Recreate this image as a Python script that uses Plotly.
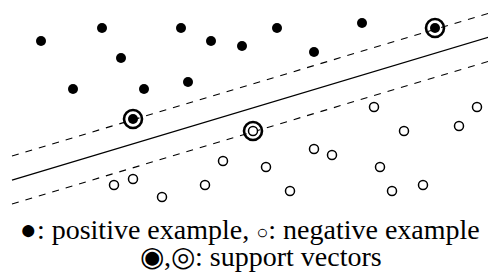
import plotly.graph_objects as go
import numpy as np

# positive examples (x, y) in a y-up coordinate frame
pos_x = [41, 102, 181, 211, 242, 121, 73, 144, 188, 277, 362, 314]
pos_y = [236, 249, 249, 236, 231, 219, 188, 188, 195, 249, 254, 225]
# negative examples
neg_x = [374, 477, 459, 404, 314, 332, 266, 380, 290, 392, 423, 223, 114, 133, 205, 162]
neg_y = [170, 170, 151, 146, 128, 122, 110, 110, 86, 86, 92, 116, 92, 98, 92, 80]
# support vectors
sv_pos_x = [133, 435]
sv_pos_y = [158, 249]
sv_neg_x = [253]
sv_neg_y = [146]

# separating hyperplane y = slope*x + intercept, and margins
slope = 0.2995
intercept_mid = 93.4
intercept_up = 117.4
intercept_low = 69.4
x_start, x_end = 12, 500

line1 = ('●: positive example, '
         '<span style="font-size:20px">○</span>: negative example')
line2 = "◉,◎: support vectors"

serif = "'Times New Roman', 'Liberation Serif', Times, serif"

fig = go.Figure()
xs = np.array([x_start, x_end])
fig.add_trace(go.Scatter(x=xs, y=slope * xs + intercept_mid, mode="lines",
                         line=dict(color="black", width=1.3), hoverinfo="skip"))
for b in (intercept_up, intercept_low):
    fig.add_trace(go.Scatter(x=xs, y=slope * xs + b, mode="lines",
                             line=dict(color="black", width=1.1, dash="7px,7px"), hoverinfo="skip"))

fig.add_trace(go.Scatter(x=pos_x, y=pos_y, mode="markers",
                         marker=dict(size=10, color="black", line=dict(width=0))))
fig.add_trace(go.Scatter(x=neg_x, y=neg_y, mode="markers",
                         marker=dict(size=9, color="white", line=dict(width=1.5, color="black"))))
fig.add_trace(go.Scatter(x=sv_pos_x + sv_neg_x, y=sv_pos_y + sv_neg_y, mode="markers",
                         marker=dict(size=18, color="rgba(0,0,0,0)", line=dict(width=2.6, color="black"))))
fig.add_trace(go.Scatter(x=sv_pos_x, y=sv_pos_y, mode="markers",
                         marker=dict(size=10, color="black", line=dict(width=0))))
fig.add_trace(go.Scatter(x=sv_neg_x, y=sv_neg_y, mode="markers",
                         marker=dict(size=9, color="white", line=dict(width=1.5, color="black"))))

fig.add_annotation(x=250, y=47.5, xref="x", yref="y", showarrow=False, text=line1,
                   font=dict(family=serif, size=28, color="black"))
fig.add_annotation(x=261, y=20.5, xref="x", yref="y", showarrow=False, text=line2,
                   font=dict(family=serif, size=28, color="black"))

# page body has an 8px margin: the figure covers pixels 8..496 x 8..277
fig.update_layout(width=488, height=269, margin=dict(l=0, r=0, t=0, b=0),
                  showlegend=False, plot_bgcolor="white", paper_bgcolor="white",
                  xaxis=dict(range=[8, 496], visible=False, fixedrange=True),
                  yaxis=dict(range=[0, 269], visible=False, fixedrange=True))
fig.write_html("out.html")
